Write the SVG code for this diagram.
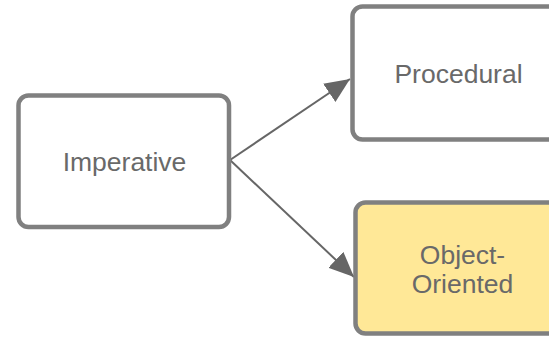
<svg xmlns="http://www.w3.org/2000/svg" width="549" height="337" viewBox="0 0 549 337">
<defs>
<style>
.box{fill:#ffffff;stroke:#808080;stroke-width:4.5}
.hl{fill:#ffe897}
.lbl{font-family:"Liberation Sans",Arial,sans-serif;font-size:26.5px;fill:#696969;text-anchor:middle}
.edge{stroke:#666666;stroke-width:2;fill:none}
</style>
<marker id="arr" markerUnits="userSpaceOnUse" markerWidth="28" markerHeight="24" refX="25" refY="12" orient="auto">
<path d="M0,1 L25,12 L0,23 Z" fill="#666666"/>
</marker>
</defs>
<g id="connectors">
<line class="edge" x1="230" y1="160" x2="350" y2="79" marker-end="url(#arr)"/>
<line class="edge" x1="230" y1="160" x2="354" y2="277" marker-end="url(#arr)"/>
</g>
<g id="imperative">
<rect class="box" x="18.5" y="95.5" width="210.5" height="131.5" rx="10"/>
<text class="lbl" x="124.5" y="170.5">Imperative</text>
</g>
<g id="procedural">
<rect class="box" x="352.5" y="6.5" width="211" height="133" rx="10"/>
<text class="lbl" x="458.5" y="82.5">Procedural</text>
</g>
<g id="object-oriented">
<rect class="box hl" x="355.5" y="202.5" width="211" height="131" rx="10"/>
<text class="lbl" x="462.5" y="263.5">Object-</text>
<text class="lbl" x="462.5" y="293">Oriented</text>
</g>
</svg>
